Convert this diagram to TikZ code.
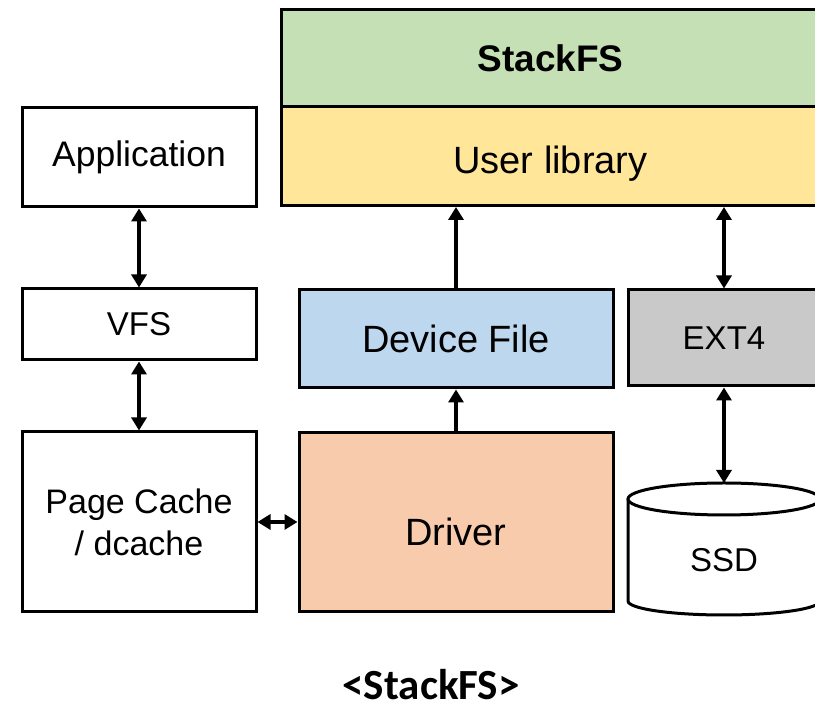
\documentclass[tikz,border=0pt]{standalone}
\usepackage{fontspec}
\setmainfont{Liberation Sans}
\newfontfamily\captionfont{Carlito}
\usetikzlibrary{arrows.meta}
\definecolor{FSGreen}{HTML}{C5E0B4}
\definecolor{FSYellow}{HTML}{FFE699}
\definecolor{FSBlue}{HTML}{BDD7EE}
\definecolor{FSGray}{HTML}{C9C9C9}
\definecolor{FSOrange}{HTML}{F8CBAD}

\begin{document}
\begin{tikzpicture}[
  x=1pt, y=1pt,
  layer/.style={draw=black,line width=3pt,inner sep=0pt,align=center,
    font=\fontsize{33}{42}\selectfont},
  biglayer/.style={layer,font=\fontsize{38}{46}\selectfont},
  link/.style={{Triangle[length=13pt,width=15pt]}-{Triangle[length=13pt,width=15pt]},line width=3.5pt},
  uplink/.style={-{Triangle[length=13pt,width=15pt]},line width=3.5pt}
]
  \clip (0,0) rectangle (815,709);

  % kernel side
  \node[layer, minimum width=234, minimum height=99, font=\fontsize{35.5}{42}\selectfont] (app) at (139,551.5) {Application};
  \node[layer, minimum width=234, minimum height=71] (vfs) at (139,384.5) {VFS};
  \node[layer, minimum width=234, minimum height=180, font=\fontsize{34}{42}\selectfont] (pcache) at (139,187) {Page Cache\\/ dcache};

  % StackFS side
  \node[biglayer, fill=FSGreen, minimum width=539, minimum height=97,
    font=\bfseries\fontsize{37}{44}\selectfont] (stackfs) at (550.5,650.5) {StackFS};
  \node[biglayer, fill=FSYellow, minimum width=539, minimum height=99,
    text height=36pt, text depth=0pt] (ulib) at (550.5,553) {User library};
  \node[biglayer, fill=FSBlue, minimum width=314, minimum height=98] (devfile) at (456,370) {Device File};
  \node[biglayer, fill=FSOrange, minimum width=314, minimum height=179,
    text height=46pt] (driver) at (456,186.5) {Driver};
  \node[layer, fill=FSGray, minimum width=192, minimum height=96] (ext4) at (724,371) {EXT4};

  % SSD cylinder
  \draw[line width=3pt, fill=white] (628,210) -- (628,108) arc[start angle=180, end angle=360, x radius=96, y radius=14] -- (820,210);
  \draw[line width=3pt, fill=white] (724,210) ellipse[x radius=96, y radius=16];
  \coordinate (ssdtop) at (724,226);
  \node[font=\fontsize{33}{42}\selectfont] (ssd) at (724,149) {SSD};

  \draw[link] (app) -- (vfs);
  \draw[link] (vfs) -- (pcache);
  \draw[link] (pcache.east) -- (pcache.east -| driver.west);
  \draw[uplink] (driver) -- (devfile);
  \draw[uplink] (devfile.north) -- (devfile.north |- ulib.south);
  \draw[link] (ext4.north |- ulib.south) -- (ext4.north);
  \draw[link] (ext4) -- (ssdtop);

  \node[inner sep=0pt, font=\captionfont\bfseries\fontsize{43}{50}\selectfont] (caption) at (431,24) {<StackFS>};
\end{tikzpicture}
\end{document}
